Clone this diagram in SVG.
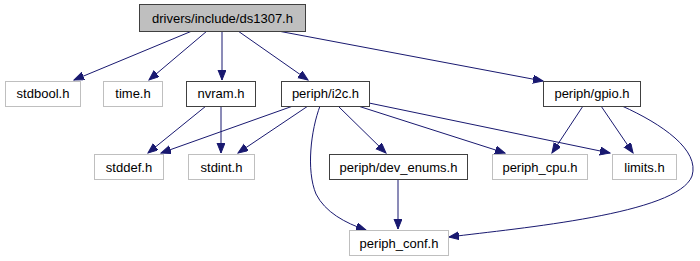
<svg xmlns="http://www.w3.org/2000/svg" width="700" height="261" viewBox="0 0 700 261">
  <style>
    .node rect { fill: #ffffff; stroke-width: 1; }
    .linked rect { stroke: #404040; }
    .plain rect { stroke: #bfbfbf; }
    .root rect { fill: #bfbfbf; stroke: #404040; }
    text { font-family: "Liberation Sans", Arial, sans-serif; font-size: 13px; fill: #000000; text-anchor: middle; }
    .edges path { fill: none; stroke: #191970; stroke-width: 1; marker-end: url(#arrow); }
  </style>
  <defs>
    <marker id="arrow" markerUnits="userSpaceOnUse" markerWidth="11" markerHeight="9" refX="10" refY="4" orient="auto">
      <path d="M0,0 L10,4 L0,8 z" fill="#191970" stroke="#191970" stroke-width="1"/>
    </marker>
  </defs>
  <rect width="700" height="261" fill="#ffffff"/>

  <!-- include edges -->
  <g id="edges" class="edges">
    <path d="M192,31 L74,80"/>
    <path d="M207,31 L149,80"/>
    <path d="M222,31 L222,80"/>
    <path d="M238,31 L308,80"/>
    <path d="M278,31 L543,81"/>
    <path d="M206,106 L148,153"/>
    <path d="M221,106 L221,153"/>
    <path d="M293,106 L161,153"/>
    <path d="M308,106 L238,153"/>
    <path d="M338,106 L386,153"/>
    <path d="M358,106 L505,153"/>
    <path d="M369,103 L610,153"/>
    <path d="M320,106 C311,130 306,170 316,194 C325,212 345,223 366,230"/>
    <path d="M583,106 L552,153"/>
    <path d="M601,106 L633,153"/>
    <path d="M622,106 C662,124 700,150 692,176 C678,214 520,228 449,237"/>
    <path d="M398,180 L398,229"/>
  </g>

  <g id="ds1307_h" class="node root">
    <rect x="139.5" y="4.5" width="166" height="27"/>
    <text x="222.5" y="22.5">drivers/include/ds1307.h</text>
  </g>

  <g id="stdbool_h" class="node plain">
    <rect x="5.5" y="81.5" width="75" height="25"/>
    <text x="43" y="98">stdbool.h</text>
  </g>
  <g id="time_h" class="node plain">
    <rect x="103.5" y="81.5" width="59" height="25"/>
    <text x="133" y="98">time.h</text>
  </g>
  <g id="nvram_h" class="node linked">
    <rect x="186.5" y="81.5" width="69" height="25"/>
    <text x="221" y="98">nvram.h</text>
  </g>
  <g id="periph_i2c_h" class="node linked">
    <rect x="281.5" y="81.5" width="88" height="25"/>
    <text x="325.5" y="98">periph/i2c.h</text>
  </g>
  <g id="periph_gpio_h" class="node linked">
    <rect x="543.5" y="81.5" width="97" height="25"/>
    <text x="592" y="98">periph/gpio.h</text>
  </g>

  <g id="stddef_h" class="node plain">
    <rect x="94.5" y="154.5" width="69" height="25"/>
    <text x="129" y="171.5">stddef.h</text>
  </g>
  <g id="stdint_h" class="node plain">
    <rect x="188.5" y="154.5" width="66" height="25"/>
    <text x="221.5" y="171.5">stdint.h</text>
  </g>
  <g id="periph_dev_enums_h" class="node linked">
    <rect x="329.5" y="154.5" width="138" height="25"/>
    <text x="398.5" y="171.5">periph/dev_enums.h</text>
  </g>
  <g id="periph_cpu_h" class="node plain">
    <rect x="492.5" y="154.5" width="95" height="25"/>
    <text x="540" y="171.5">periph_cpu.h</text>
  </g>
  <g id="limits_h" class="node plain">
    <rect x="612.5" y="154.5" width="64" height="25"/>
    <text x="644.5" y="171.5">limits.h</text>
  </g>

  <g id="periph_conf_h" class="node plain">
    <rect x="349.5" y="230.5" width="99" height="25"/>
    <text x="399" y="247.5">periph_conf.h</text>
  </g>
</svg>
